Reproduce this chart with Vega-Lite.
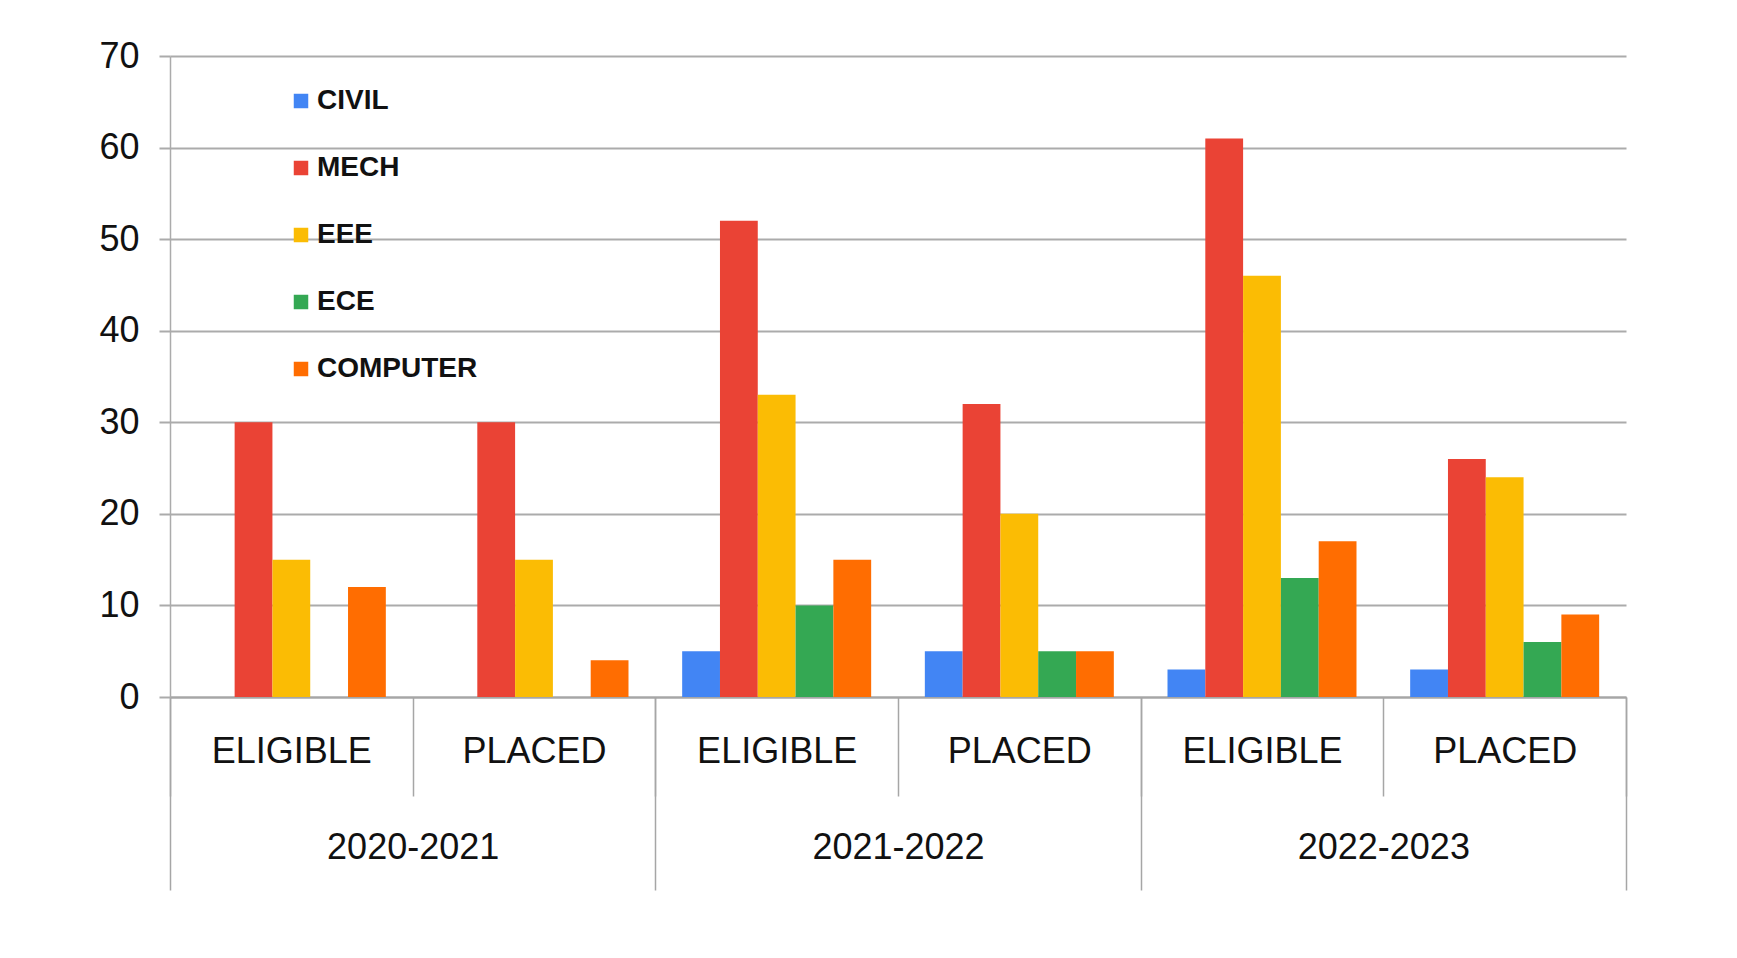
{
  "$schema": "https://vega.github.io/schema/vega-lite/v6.json",
  "width": 1456,
  "height": 641,
  "autosize": {"type": "none"},
  "padding": {"left": 170, "top": 56, "right": 111, "bottom": 261},
  "background": "white",
  "config": {"view": {"stroke": null}, "font": "Liberation Sans"},
  "data": {
    "values": [
      {"year": "2020-2021", "status": "ELIGIBLE", "key": "2020-2021|ELIGIBLE", "branch": "CIVIL", "count": 0},
      {"year": "2020-2021", "status": "ELIGIBLE", "key": "2020-2021|ELIGIBLE", "branch": "MECH", "count": 30},
      {"year": "2020-2021", "status": "ELIGIBLE", "key": "2020-2021|ELIGIBLE", "branch": "EEE", "count": 15},
      {"year": "2020-2021", "status": "ELIGIBLE", "key": "2020-2021|ELIGIBLE", "branch": "ECE", "count": 0},
      {"year": "2020-2021", "status": "ELIGIBLE", "key": "2020-2021|ELIGIBLE", "branch": "COMPUTER", "count": 12},
      {"year": "2020-2021", "status": "PLACED", "key": "2020-2021|PLACED", "branch": "CIVIL", "count": 0},
      {"year": "2020-2021", "status": "PLACED", "key": "2020-2021|PLACED", "branch": "MECH", "count": 30},
      {"year": "2020-2021", "status": "PLACED", "key": "2020-2021|PLACED", "branch": "EEE", "count": 15},
      {"year": "2020-2021", "status": "PLACED", "key": "2020-2021|PLACED", "branch": "ECE", "count": 0},
      {"year": "2020-2021", "status": "PLACED", "key": "2020-2021|PLACED", "branch": "COMPUTER", "count": 4},
      {"year": "2021-2022", "status": "ELIGIBLE", "key": "2021-2022|ELIGIBLE", "branch": "CIVIL", "count": 5},
      {"year": "2021-2022", "status": "ELIGIBLE", "key": "2021-2022|ELIGIBLE", "branch": "MECH", "count": 52},
      {"year": "2021-2022", "status": "ELIGIBLE", "key": "2021-2022|ELIGIBLE", "branch": "EEE", "count": 33},
      {"year": "2021-2022", "status": "ELIGIBLE", "key": "2021-2022|ELIGIBLE", "branch": "ECE", "count": 10},
      {"year": "2021-2022", "status": "ELIGIBLE", "key": "2021-2022|ELIGIBLE", "branch": "COMPUTER", "count": 15},
      {"year": "2021-2022", "status": "PLACED", "key": "2021-2022|PLACED", "branch": "CIVIL", "count": 5},
      {"year": "2021-2022", "status": "PLACED", "key": "2021-2022|PLACED", "branch": "MECH", "count": 32},
      {"year": "2021-2022", "status": "PLACED", "key": "2021-2022|PLACED", "branch": "EEE", "count": 20},
      {"year": "2021-2022", "status": "PLACED", "key": "2021-2022|PLACED", "branch": "ECE", "count": 5},
      {"year": "2021-2022", "status": "PLACED", "key": "2021-2022|PLACED", "branch": "COMPUTER", "count": 5},
      {"year": "2022-2023", "status": "ELIGIBLE", "key": "2022-2023|ELIGIBLE", "branch": "CIVIL", "count": 3},
      {"year": "2022-2023", "status": "ELIGIBLE", "key": "2022-2023|ELIGIBLE", "branch": "MECH", "count": 61},
      {"year": "2022-2023", "status": "ELIGIBLE", "key": "2022-2023|ELIGIBLE", "branch": "EEE", "count": 46},
      {"year": "2022-2023", "status": "ELIGIBLE", "key": "2022-2023|ELIGIBLE", "branch": "ECE", "count": 13},
      {"year": "2022-2023", "status": "ELIGIBLE", "key": "2022-2023|ELIGIBLE", "branch": "COMPUTER", "count": 17},
      {"year": "2022-2023", "status": "PLACED", "key": "2022-2023|PLACED", "branch": "CIVIL", "count": 3},
      {"year": "2022-2023", "status": "PLACED", "key": "2022-2023|PLACED", "branch": "MECH", "count": 26},
      {"year": "2022-2023", "status": "PLACED", "key": "2022-2023|PLACED", "branch": "EEE", "count": 24},
      {"year": "2022-2023", "status": "PLACED", "key": "2022-2023|PLACED", "branch": "ECE", "count": 6},
      {"year": "2022-2023", "status": "PLACED", "key": "2022-2023|PLACED", "branch": "COMPUTER", "count": 9}
    ]
  },
  "layer": [
    {
      "mark": {"type": "bar"},
      "encoding": {
        "x": {
          "field": "key", "type": "nominal", "sort": null,
          "scale": {"paddingInner": 0, "paddingOuter": 0},
          "axis": {
            "title": null, "labelExpr": "split(datum.value, '|')[1]", "labelAngle": 0,
            "tickBand": "extent", "tickSize": 99, "tickColor": "#a6a6a6", "tickWidth": 1.5,
            "domainColor": "#a6a6a6", "domainWidth": 2,
            "labelFontSize": 36, "labelColor": "#111111", "labelBaseline": "middle",
            "labelPadding": -45, "labelFont": "Liberation Sans"
          }
        },
        "xOffset": {
          "field": "branch", "type": "nominal",
          "sort": ["CIVIL", "MECH", "EEE", "ECE", "COMPUTER"],
          "scale": {"paddingInner": 0, "paddingOuter": 0.71}
        },
        "y": {
          "field": "count", "type": "quantitative",
          "scale": {"domain": [0, 70], "nice": false},
          "axis": {
            "title": null, "values": [0, 10, 20, 30, 40, 50, 60, 70],
            "grid": true, "gridColor": "#ababab", "gridWidth": 2,
            "tickSize": 11, "tickColor": "#ababab", "tickWidth": 2,
            "domainColor": "#ababab", "domainWidth": 1.5,
            "labelFontSize": 36, "labelPadding": 20, "labelColor": "#111111",
            "labelFont": "Liberation Sans"
          }
        },
        "color": {
          "field": "branch", "type": "nominal",
          "sort": ["CIVIL", "MECH", "EEE", "ECE", "COMPUTER"],
          "scale": {
            "domain": ["CIVIL", "MECH", "EEE", "ECE", "COMPUTER"],
            "range": ["#4285F4", "#EA4335", "#FBBC04", "#34A853", "#FF6D01"]
          },
          "legend": {
            "title": null, "orient": "none", "legendX": 117, "legendY": 31,
            "direction": "vertical", "symbolType": "square", "symbolSize": 210,
            "symbolStrokeWidth": 0, "labelFontSize": 28, "labelFontWeight": "bold",
            "labelColor": "#111111", "rowPadding": 39, "labelOffset": 2, "padding": 0,
            "labelLimit": 500, "labelFont": "Liberation Sans"
          }
        }
      }
    },
    {
      "mark": {"type": "rule", "opacity": 0},
      "encoding": {
        "x": {
          "field": "year", "type": "nominal", "sort": null,
          "scale": {"type": "band", "paddingInner": 0, "paddingOuter": 0},
          "axis": {
            "orient": "bottom", "title": null, "labelAngle": 0, "domain": false,
            "tickBand": "extent", "tickSize": 193, "tickColor": "#a6a6a6", "tickWidth": 1.5,
            "labelFontSize": 36, "labelColor": "#111111", "labelBaseline": "middle",
            "labelPadding": -43, "labelFont": "Liberation Sans"
          }
        }
      }
    }
  ],
  "resolve": {"scale": {"x": "independent"}, "axis": {"x": "independent"}}
}
